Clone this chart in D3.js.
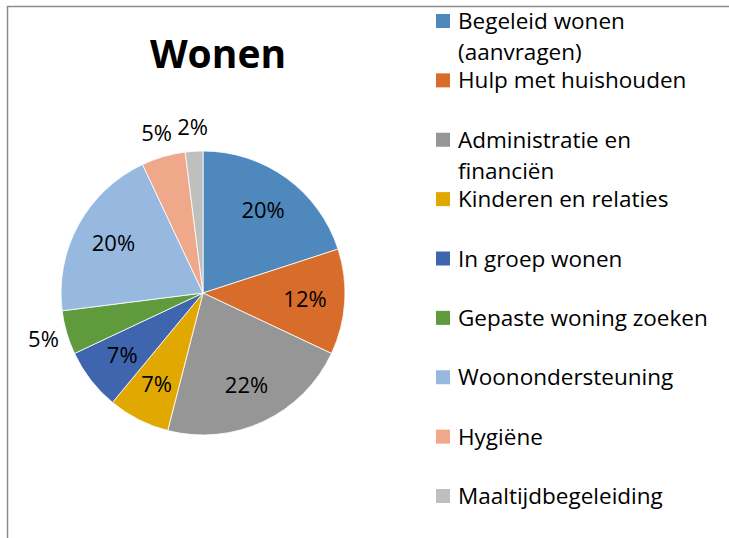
<!DOCTYPE html>
<html>
<head>
<meta charset="utf-8">
<script src="https://cdn.jsdelivr.net/npm/d3@7"></script>
<style>
  body { margin: 0; background: #fff; }
  svg { display: block; font-family: "Open Sans", Lato, sans-serif; }
</style>
</head>
<body>
<svg id="chart"></svg>
<script>
// data
const categories = [
  "Begeleid wonen (aanvragen)",
  "Hulp met huishouden",
  "Administratie en financiën",
  "Kinderen en relaties",
  "In groep wonen",
  "Gepaste woning zoeken",
  "Woonondersteuning",
  "Hygiëne",
  "Maaltijdbegeleiding"
];
const shares = [20, 12, 22, 7, 7, 5, 20, 5, 2];
// legend text as it wraps in the original
const legendLines = [
  ["Begeleid wonen", "(aanvragen)"],
  ["Hulp met huishouden"],
  ["Administratie en", "financiën"],
  ["Kinderen en relaties"],
  ["In groep wonen"],
  ["Gepaste woning zoeken"],
  ["Woonondersteuning"],
  ["Hygiëne"],
  ["Maaltijdbegeleiding"]
];
const colors = ["#4f88bc", "#d86d2b", "#969696", "#e0a800", "#3f65ae",
                "#5f9a3d", "#97b9e0", "#f0a88a", "#bfbfbf"];

const width = 729, height = 538;
const svg = d3.select("#chart").attr("width", width).attr("height", height);

// chart area frame (only top and left edges show in the window)
svg.append("rect")
  .attr("x", 7.5).attr("y", 6.5)
  .attr("width", 900).attr("height", 900)
  .attr("fill", "none")
  .attr("stroke", "#8c8c8c")
  .attr("stroke-width", 1.5);

// title
svg.append("text")
  .attr("x", 218).attr("y", 68)
  .attr("text-anchor", "middle")
  .attr("font-weight", "bold")
  .attr("font-size", 39)
  .attr("fill", "#000")
  .text("Wonen");

// pie
const cx = 203, cy = 293, r = 142;
const color = d3.scaleOrdinal().domain(categories).range(colors);
const pie = d3.pie().sort(null).value(d => d.value);
const arcs = pie(categories.map((c, i) => ({ name: c, value: shares[i] })));
const arc = d3.arc().innerRadius(0).outerRadius(r);

const g = svg.append("g").attr("transform", "translate(" + cx + "," + cy + ")");

g.selectAll("path")
  .data(arcs)
  .join("path")
  .attr("d", arc)
  .attr("fill", d => color(d.data.name))
  .attr("stroke", "#fff")
  .attr("stroke-width", 0.8);

// labels: small slices get their label outside the pie
const inner = d3.arc().innerRadius(r * 0.72).outerRadius(r * 0.72);
const outer = d3.arc().innerRadius(r * 1.17).outerRadius(r * 1.17);

g.selectAll("text.lbl")
  .data(arcs)
  .join("text")
  .attr("class", "lbl")
  .attr("transform", d => "translate(" + (d.data.value < 6 ? outer : inner).centroid(d) + ")")
  .attr("text-anchor", "middle")
  .attr("dy", "0.34em")
  .attr("font-size", 22)
  .attr("fill", "#000")
  .text(d => d.data.value + "%");

// legend
const legendY = d3.scalePoint().domain(categories).range([21, 496]);
const legend = svg.append("g");
const item = legend.selectAll("g")
  .data(categories)
  .join("g")
  .attr("transform", d => "translate(436," + legendY(d) + ")");

item.append("rect")
  .attr("x", 0).attr("y", -7)
  .attr("width", 14).attr("height", 14)
  .attr("fill", d => color(d));

item.each(function(d, i) {
  const t = d3.select(this).append("text")
    .attr("x", 22).attr("y", 8)
    .attr("font-size", 22.5)
    .attr("fill", "#000");
  legendLines[i].forEach((line, j) => {
    t.append("tspan").attr("x", 22).attr("dy", j === 0 ? 0 : 31).text(line);
  });
});
</script>
</body>
</html>
